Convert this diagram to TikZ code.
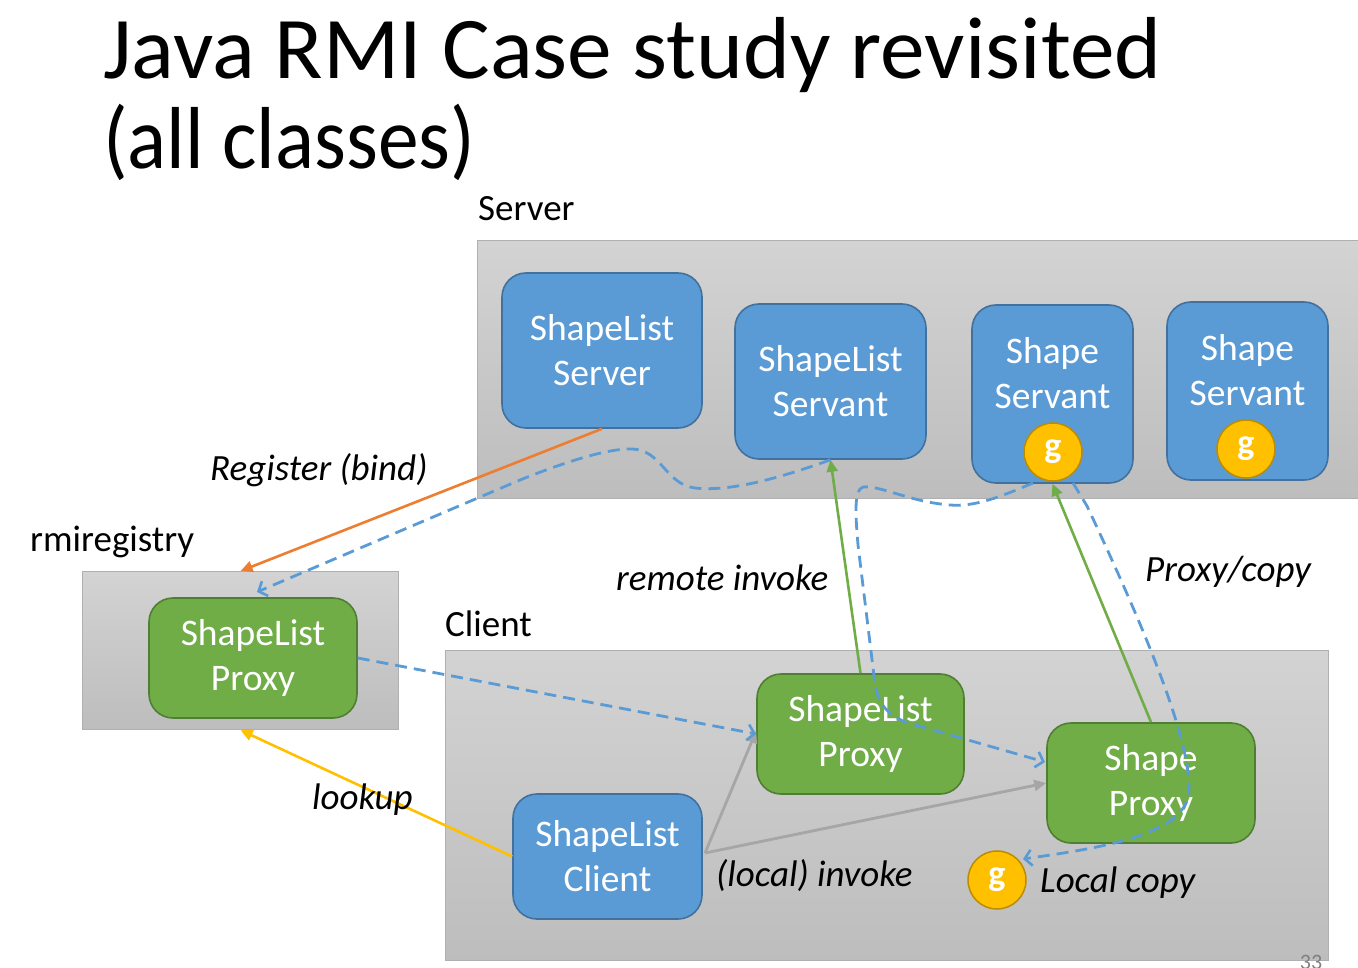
\documentclass[tikz,border=0pt]{standalone}
\usepackage{fontspec}
\usepackage{graphicx}
\setmainfont{Carlito}
\usetikzlibrary{arrows.meta,calc}

\definecolor{objblue}{HTML}{5B9BD5}
\definecolor{objblueline}{HTML}{41719C}
\definecolor{objgreen}{HTML}{70AD47}
\definecolor{objgreenline}{HTML}{507E32}
\definecolor{gold}{HTML}{FFC000}
\definecolor{goldline}{HTML}{BC8C00}
\definecolor{bindorange}{HTML}{ED7D31}
\definecolor{lookupyellow}{HTML}{FFC000}
\definecolor{localgray}{HTML}{A6A6A6}
\definecolor{areatop}{HTML}{D3D3D3}
\definecolor{areabottom}{HTML}{BDBDBD}
\definecolor{arealine}{HTML}{B0B0B0}

\tikzset{
  area/.style={rectangle, draw=arealine, line width=1.2pt,
    top color=areatop, bottom color=areabottom, inner sep=0pt},
  objtext/.style={text=white, font=\fontsize{37.5}{45}\selectfont, align=center},
  obj/.style={rectangle, rounded corners=24pt, line width=1.6pt, inner sep=0pt, objtext},
  remoteobj/.style={obj, fill=objblue, draw=objblueline},
  proxyobj/.style={obj, fill=objgreen, draw=objgreenline},
  gball/.style={circle, fill=gold, draw=goldline, line width=1.5pt,
    minimum size=58pt, inner sep=0pt, text=white,
    font=\fontsize{36}{36}\selectfont\bfseries},
  caption/.style={inner sep=0pt, anchor=base west, font=\fontsize{37}{40}\selectfont},
  titleline/.style={caption, font=\fontsize{88}{92}\selectfont},
  flowlabel/.style={caption, font=\fontsize{37}{40}\selectfont\itshape},
  bindarrow/.style={draw=bindorange, line width=2.6pt, -{Triangle[length=12pt,width=11pt]}},
  lookuparrow/.style={draw=lookupyellow, line width=2.6pt, -{Triangle[length=12pt,width=11pt]}},
  invokearrow/.style={draw=objgreen, line width=2.6pt, -{Triangle[length=12pt,width=11pt]}},
  localarrow/.style={draw=localgray, line width=2.8pt, -{Triangle[length=12pt,width=11pt]}},
  copyline/.style={draw=objblue, line width=2.8pt, dash pattern=on 12pt off 7pt,
    -{Straight Barb[length=7pt,width=16pt,line width=2.6pt]}},
}

\begin{document}
\begin{tikzpicture}[x=1pt, y=-1pt]
\useasboundingbox (0,0) rectangle (1358,968);

% title
\node[titleline] (title1) at (103,79) {\scalebox{1.015}[1]{Java RMI Case study revisited}};
\node[titleline] (title2) at (103,169) {\scalebox{0.925}[1]{(all classes)}};

% hosts
\node[area, minimum width=885pt, minimum height=258pt, anchor=north west] (serverarea) at (477,240) {};
\node[area, minimum width=316pt, minimum height=158pt, anchor=north west] (rmiarea) at (82,571) {};
\node[area, minimum width=883pt, minimum height=310pt, anchor=north west] (clientarea) at (445,650) {};

\node[caption] (serverlbl) at (478,221) {Server};
\node[caption] (rmilbl) at (30,551) {rmiregistry};
\node[caption] (clientlbl) at (445,636) {Client};

% server objects
\node[remoteobj, minimum width=200pt, minimum height=155pt] (slserver) at (602,350.5) {ShapeList\\Server};
\node[remoteobj, minimum width=191pt, minimum height=155pt] (slservant) at (830.5,381.5) {ShapeList\\Servant};
\node[remoteobj, minimum width=161pt, minimum height=178pt,
  label={[objtext, yshift=21pt]center:Shape\\Servant}] (servA) at (1052.5,394) {};
\node[remoteobj, minimum width=161pt, minimum height=178pt,
  label={[objtext, yshift=21pt]center:Shape\\Servant}] (servB) at (1247.5,391) {};
\node[gball] (gA) at (1053,452) {g};
\node[gball] (gB) at (1246,449) {g};

% registry and client objects
\node[proxyobj, minimum width=208pt, minimum height=120pt] (regproxy) at (253,658) {ShapeList\\Proxy};
\node[proxyobj, minimum width=207pt, minimum height=120pt] (clproxy) at (860.5,734) {ShapeList\\Proxy};
\node[proxyobj, minimum width=208pt, minimum height=120pt] (shproxy) at (1151,783) {Shape\\Proxy};
\node[remoteobj, minimum width=189pt, minimum height=125pt] (slclient) at (607.5,856.5) {ShapeList\\Client};
\node[gball] (gC) at (997,880) {g};

% free ends of the reference paths
\coordinate (regdrop) at (257,592);
\coordinate (servAleft) at (1033,483);
\coordinate (servAright) at (1073,483);
\coordinate (shproxyhit) at (1045,762);
\coordinate (gChit) at (1023,859);
\coordinate (clientout) at (705,853);

% registration and lookup
\draw[bindarrow] (slserver.south) -- (rmiarea.north);
\draw[lookuparrow] (slclient.west) -- (rmiarea.south);

% remote invocations
\draw[invokearrow] (clproxy.north) -- (slservant.south);
\draw[invokearrow] (shproxy.north) -- (servA.south);

% local invocations
\draw[localarrow] (clientout) -- ([yshift=3pt]clproxy.west);
\draw[localarrow] (clientout) -- (shproxy.west);

% references travelling as proxies
\draw[copyline] (slservant.south) .. controls (780,478) and (730,492) .. (695,488)
  .. controls (665,484) and (662,450) .. (632,449)
  .. controls (605,448) and (555,466) .. (520,480) -- (regdrop);
\draw[copyline] (regproxy.east) -- (clproxy.west);
\draw[copyline] (servAleft) .. controls (1000,497) and (975,507) .. (950,505)
  .. controls (910,502) and (880,485) .. (863,487)
  .. controls (853,490) and (856,520) .. (858,545) -- (875,684)
  .. controls (879,706) and (888,714) .. (905,722) -- (shproxyhit);
\draw[copyline] (servAright) -- (1087,506)
  .. controls (1150,640) and (1190,740) .. (1189,790)
  .. controls (1188,835) and (1100,848) .. (gChit);

% flow labels
\node[flowlabel] (bindlbl) at (210,480) {Register (bind)};
\node[flowlabel] (remotelbl) at (616,590) {remote invoke};
\node[flowlabel] (copylbl) at (1145,581) {Proxy/copy};
\node[flowlabel] (lookuplbl) at (312,809) {lookup};
\node[flowlabel] (locallbl) at (716,886) {(local) invoke};
\node[flowlabel] (localcopylbl) at (1040,892) {Local copy};

% slide number, running off the foot of the slide
\node[inner sep=0pt, anchor=north, text=gray, font=\fontsize{22}{22}\selectfont] (slideno) at (1311,955) {33};
\end{tikzpicture}
\end{document}
